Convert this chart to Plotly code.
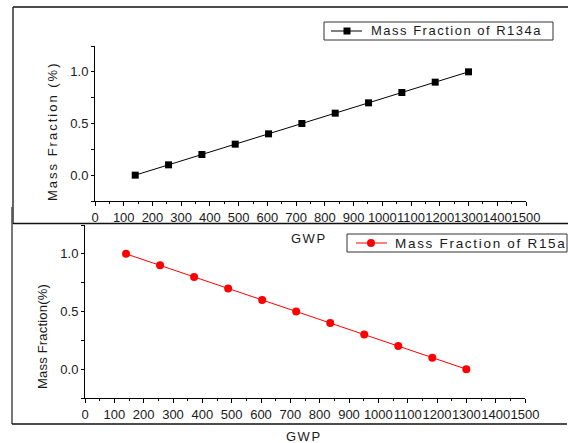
import plotly.graph_objects as go

# ---- data ----
gwp = [140, 256, 372, 488, 604, 720, 836, 952, 1068, 1184, 1300]
frac_r134a = [0.0, 0.1, 0.2, 0.3, 0.4, 0.5, 0.6, 0.7, 0.8, 0.9, 1.0]
frac_r15a = [1.0, 0.9, 0.8, 0.7, 0.6, 0.5, 0.4, 0.3, 0.2, 0.1, 0.0]
x_ticks = list(range(0, 1501, 100))
y_ticks = [0.0, 0.5, 1.0]

W, H = 568, 443
FONT = "Liberation Sans, Arial, sans-serif"
TXT = "#1a1a1a"


def px(x):
    return x / W


def py(y):
    return 1 - y / H


def spaced(s, ls):
    return '<span style="letter-spacing:%.2fpx">%s</span>' % (ls, s)


fig = go.Figure()
fig.add_trace(go.Scatter(
    x=gwp, y=frac_r134a, mode="lines+markers", name="Mass Fraction of R134a",
    line=dict(color="black", width=1),
    marker=dict(symbol="square", size=7, color="black"),
    xaxis="x", yaxis="y", showlegend=False))
fig.add_trace(go.Scatter(
    x=gwp, y=frac_r15a, mode="lines+markers", name="Mass Fraction of R15a",
    line=dict(color="#ff0000", width=1),
    marker=dict(symbol="circle", size=8, color="#ff0000"),
    xaxis="x2", yaxis="y2", showlegend=False))


def xax(domain, anchor):
    return dict(domain=domain, anchor=anchor, range=[0, 1500],
                tickmode="array", tickvals=x_ticks, ticktext=[str(v) for v in x_ticks],
                ticks="outside", ticklen=4, tickwidth=1, tickcolor="black",
                minor=dict(dtick=50, tick0=0, ticks="outside", ticklen=2, tickcolor="black"),
                showline=True, linecolor="black", linewidth=1,
                showgrid=False, zeroline=False, tickangle=0,
                tickfont=dict(family=FONT, size=13, color=TXT))


def yax(domain, anchor):
    return dict(domain=domain, anchor=anchor, range=[-0.25, 1.25],
                tickmode="array", tickvals=y_ticks, ticktext=["%.1f" % v for v in y_ticks],
                ticks="outside", ticklen=3, tickwidth=1, tickcolor="black",
                minor=dict(dtick=0.25, tick0=0, ticks="outside", ticklen=3, tickcolor="black"),
                showline=True, linecolor="black", linewidth=1,
                showgrid=False, zeroline=False,
                tickfont=dict(family=FONT, size=13, color=TXT))


fig.update_layout(
    width=W, height=H, margin=dict(l=0, r=0, t=0, b=0, autoexpand=False),
    autosize=False,
    paper_bgcolor="white", plot_bgcolor="white",
    xaxis=xax([px(95), px(526)], "y"),
    yaxis=yax([py(201), py(46)], "x"),
    xaxis2=xax([px(85), px(525)], "y2"),
    yaxis2=yax([py(398), py(225)], "x2"),
)

shapes = []
# panel frames
shapes.append(dict(type="line", xref="paper", yref="paper", x0=px(13), x1=px(568), y0=py(7), y1=py(7),
                   line=dict(color="#111", width=1.3)))
shapes.append(dict(type="line", xref="paper", yref="paper", x0=px(13), x1=px(13), y0=py(7), y1=py(224),
                   line=dict(color="#111", width=1.3)))
shapes.append(dict(type="line", xref="paper", yref="paper", x0=px(13), x1=px(568), y0=py(223.5), y1=py(223.5),
                   line=dict(color="#111", width=1.3)))
shapes.append(dict(type="line", xref="paper", yref="paper", x0=px(12), x1=px(12), y0=py(207), y1=py(424),
                   line=dict(color="#555", width=1.6)))
shapes.append(dict(type="line", xref="paper", yref="paper", x0=px(12), x1=px(567), y0=py(424), y1=py(424),
                   line=dict(color="#111", width=1.3)))
# legend boxes
shapes.append(dict(type="rect", xref="paper", yref="paper", x0=px(324), x1=px(553), y0=py(40), y1=py(22),
                   line=dict(color="#333", width=1), fillcolor="white"))
shapes.append(dict(type="rect", xref="paper", yref="paper", x0=px(347), x1=px(567), y0=py(252), y1=py(234),
                   line=dict(color="#333", width=1), fillcolor="white"))
# legend glyphs
shapes.append(dict(type="line", xref="paper", yref="paper", x0=px(331), x1=px(362), y0=py(31), y1=py(31),
                   line=dict(color="black", width=1)))
shapes.append(dict(type="rect", xref="paper", yref="paper", x0=px(343.5), x1=px(350.5), y0=py(34.5), y1=py(27.5),
                   line=dict(color="black", width=0), fillcolor="black"))
shapes.append(dict(type="line", xref="paper", yref="paper", x0=px(356), x1=px(387), y0=py(243), y1=py(243),
                   line=dict(color="#ff0000", width=1)))
shapes.append(dict(type="circle", xref="paper", yref="paper", x0=px(367), x1=px(375), y0=py(247), y1=py(239),
                   line=dict(color="#ff0000", width=0), fillcolor="#ff0000"))
fig.update_layout(shapes=shapes)

ann = []


def text(x, y, s, size, angle=0, xanchor="center", ls=0):
    ann.append(dict(xref="paper", yref="paper", x=px(x), y=py(y), text=spaced(s, ls) if ls else s,
                    showarrow=False, xanchor=xanchor, yanchor="middle", textangle=angle,
                    borderpad=0,
                    font=dict(family=FONT, size=size, color=TXT)))


text(52, 132, "Mass Fraction (%)", 13, -90, ls=2)
text(42, 337, "Mass Fraction(%)", 13, -90, ls=0.2)
text(309, 239, "GWP", 13, ls=1.5)
text(304, 436, "GWP", 13, ls=1.5)
text(370, 31, "Mass Fraction of R134a", 13, xanchor="left", ls=1.5)
text(394, 243, "Mass Fraction of R15a", 13.5, xanchor="left", ls=1.7)
fig.update_layout(annotations=ann)

fig.write_html("out.html")
